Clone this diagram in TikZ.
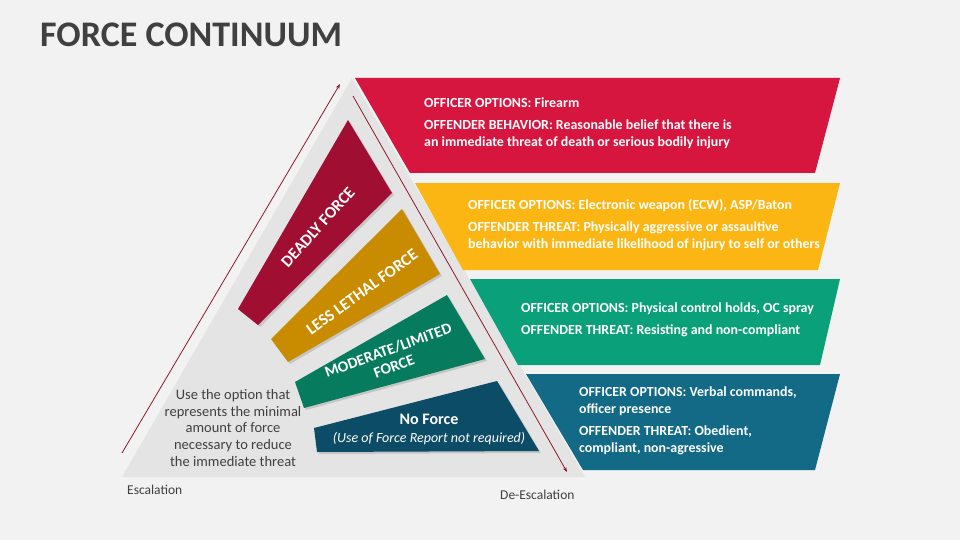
\documentclass[tikz,border=0pt]{standalone}
\usepackage{fontspec}
\setmainfont{Carlito}
\usetikzlibrary{shadows,arrows.meta}
\definecolor{bg}{HTML}{F2F2F2}
\definecolor{tri}{HTML}{E4E4E4}
\definecolor{ttl}{HTML}{404040}
\definecolor{cRed}{HTML}{D6163F}
\definecolor{cYel}{HTML}{FBB614}
\definecolor{cGrn}{HTML}{0AA079}
\definecolor{cBlu}{HTML}{126A86}
\definecolor{dRed}{HTML}{A00F32}
\definecolor{dYel}{HTML}{C98B00}
\definecolor{dGrn}{HTML}{077B5E}
\definecolor{dBlu}{HTML}{0D4C66}
\definecolor{arr}{HTML}{8B1A2E}
\tikzset{
 band/.style={drop shadow={shadow xshift=2pt,shadow yshift=-2pt,opacity=0.3}},
 info/.style={anchor=north west,align=left,text=white,font=\bfseries\fontsize{13.9}{17}\selectfont,inner sep=0pt},
 lab/.style={text=white,font=\bfseries\fontsize{16.5}{18}\selectfont,align=center,inner sep=0pt},
 note/.style={text=ttl,font=\fontsize{14.5}{16.8}\selectfont,align=center,inner sep=0pt},
 axis/.style={text=ttl,font=\fontsize{13.5}{15}\selectfont,inner sep=0pt},
 flow/.style={draw=arr,line width=0.8pt,-{Stealth[length=5pt]}}
}
\begin{document}
\begin{tikzpicture}[x=1pt,y=-1pt]
\fill[bg] (0,0) rectangle (960,540);
\useasboundingbox (0,0) rectangle (960,540);
\node[anchor=west,text=ttl,font=\bfseries\fontsize{36}{38}\selectfont,inner sep=0pt] (title) at (40,35) {FORCE CONTINUUM};
% triangle
\fill[tri] (352,78) -- (585,477) -- (122,477) -- cycle;
% right bands
\fill[cRed] (355,78) -- (840,78) -- (815,173) -- (410,173) -- cycle;
\fill[cYel] (415,183) -- (840,183) -- (818,270) -- (463,270) -- cycle;
\fill[cGrn] (470,279) -- (840,279) -- (820,365) -- (518,365) -- cycle;
\fill[cBlu] (526,374) -- (840,374) -- (815,470) -- (583,470) -- cycle;
% left bands
\fill[dRed,band] (348,120) -- (392,193) -- (258,325) -- (238,309) -- cycle;
\fill[dYel,band] (402,209) -- (440,274) -- (288,362) -- (271,339) -- cycle;
\fill[dGrn,band] (447,295) -- (485,359) -- (304,408) -- (295,382) -- cycle;
\fill[dBlu,band] (497,381) -- (539,451) -- (317,452) -- (314,428) -- cycle;
% arrows
\coordinate (e1) at (122,453); \coordinate (e2) at (340,84);
\coordinate (d1) at (353,96); \coordinate (d2) at (567,472);
\draw[flow] (e1) -- (e2);
\draw[flow] (d1) -- (d2);
% band labels
\node[lab,rotate=48] (deadly) at (318,227) {DEADLY FORCE};
\node[lab,rotate=36] (lethal) at (362,292) {LESS LETHAL FORCE};
\node[lab,rotate=20,font=\bfseries\fontsize{15.5}{17}\selectfont] (moder) at (391,358) {MODERATE/LIMITED\\FORCE};
\node[lab,font=\fontsize{16}{18}\selectfont] (noforce) at (429,429) {\textbf{No Force}\\{\itshape\fontsize{14}{17}\selectfont (Use of Force Report not required)}};
\node[note] (hint) at (233,428) {Use the option that\\represents the minimal\\amount of force\\necessary to reduce\\the immediate threat};
\node[axis,anchor=west] (esc) at (127,490) {Escalation};
\node[axis,anchor=west] (desc) at (500,495) {De-Escalation};
% info texts
\node[info] (i1) at (424,98) {OFFICER OPTIONS: Firearm\\[5pt]OFFENDER BEHAVIOR: Reasonable belief that there is\\an immediate threat of death or serious bodily injury};
\node[info] (i2) at (468,199) {OFFICER OPTIONS: Electronic weapon (ECW), ASP/Baton\\[5pt]OFFENDER THREAT: Physically aggressive or assaultive\\behavior with immediate likelihood of injury to self or others};
\node[info] (i3) at (521,303) {OFFICER OPTIONS: Physical control holds, OC spray\\[5pt]OFFENDER THREAT: Resisting and non-compliant};
\node[info] (i4) at (579,387) {OFFICER OPTIONS: Verbal commands,\\officer presence\\[5pt]OFFENDER THREAT: Obedient,\\compliant, non-agressive};
\end{tikzpicture}
\end{document}
